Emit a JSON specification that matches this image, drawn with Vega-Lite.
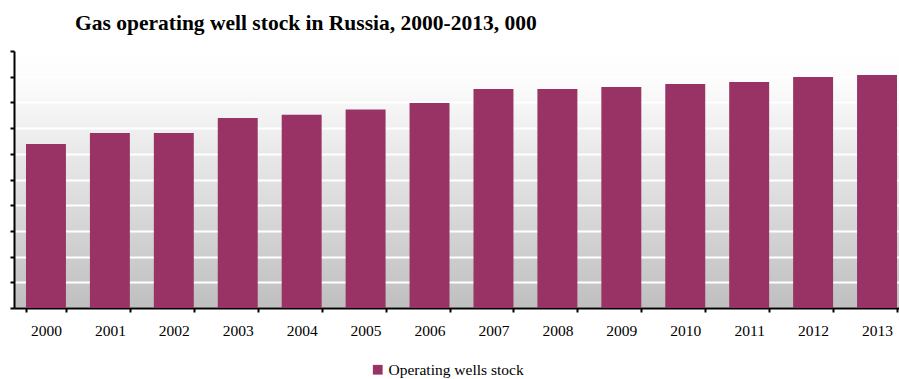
{
  "$schema": "https://vega.github.io/schema/vega-lite/v6.json",
  "width": 885,
  "height": 257,
  "autosize": {"type": "none"},
  "padding": {"left": 14, "top": 51, "right": 0, "bottom": 71},
  "background": "white",
  "title": {
    "text": "Gas operating well stock in Russia, 2000-2013, 000",
    "anchor": "start",
    "frame": "group",
    "dx": 61,
    "dy": 21,
    "baseline": "alphabetic",
    "offset": 20,
    "font": "Liberation Serif",
    "fontSize": 21.5,
    "fontWeight": "bold",
    "color": "black"
  },
  "config": {
    "view": {
      "stroke": null,
      "fill": {
        "gradient": "linear",
        "x1": 0, "y1": 0, "x2": 0, "y2": 1,
        "stops": [
          {"offset": 0, "color": "#ffffff"},
          {"offset": 0.12, "color": "#fcfcfc"},
          {"offset": 1, "color": "#bfbfbf"}
        ]
      }
    }
  },
  "data": {
    "values": [
      {"year": "2000", "stock": 6.38, "series": "Operating wells stock"},
      {"year": "2001", "stock": 6.81, "series": "Operating wells stock"},
      {"year": "2002", "stock": 6.81, "series": "Operating wells stock"},
      {"year": "2003", "stock": 7.39, "series": "Operating wells stock"},
      {"year": "2004", "stock": 7.52, "series": "Operating wells stock"},
      {"year": "2005", "stock": 7.72, "series": "Operating wells stock"},
      {"year": "2006", "stock": 7.98, "series": "Operating wells stock"},
      {"year": "2007", "stock": 8.52, "series": "Operating wells stock"},
      {"year": "2008", "stock": 8.52, "series": "Operating wells stock"},
      {"year": "2009", "stock": 8.60, "series": "Operating wells stock"},
      {"year": "2010", "stock": 8.72, "series": "Operating wells stock"},
      {"year": "2011", "stock": 8.79, "series": "Operating wells stock"},
      {"year": "2012", "stock": 8.99, "series": "Operating wells stock"},
      {"year": "2013", "stock": 9.07, "series": "Operating wells stock"}
    ]
  },
  "mark": {"type": "bar"},
  "encoding": {
    "x": {
      "field": "year",
      "type": "ordinal",
      "scale": {"range": [0, 895], "paddingInner": 0.375, "paddingOuter": 0.1875},
      "axis": {
        "title": null,
        "labelAngle": 0,
        "labelFont": "Liberation Serif",
        "labelFontSize": 15.5,
        "labelColor": "black",
        "labelPadding": 11,
        "domainColor": "black",
        "domainWidth": 2,
        "tickColor": "black",
        "tickWidth": 2,
        "tickSize": 4,
        "tickBand": "extent",
        "grid": false
      }
    },
    "y": {
      "field": "stock",
      "type": "quantitative",
      "scale": {"domain": [0, 10]},
      "axis": {
        "title": null,
        "labels": false,
        "values": [0, 1, 2, 3, 4, 5, 6, 7, 8, 9, 10],
        "domainColor": "black",
        "domainWidth": 2,
        "tickColor": "black",
        "tickWidth": 2,
        "tickSize": 4,
        "grid": true,
        "gridColor": "white",
        "gridWidth": 2,
        "gridOpacity": 1
      }
    },
    "color": {
      "field": "series",
      "type": "nominal",
      "scale": {"range": ["#993366"]},
      "legend": {
        "title": null,
        "orient": "none",
        "legendX": 356,
        "legendY": 311,
        "symbolType": "square",
        "symbolSize": 95,
        "symbolStrokeWidth": 0,
        "labelFont": "Liberation Serif",
        "labelFontSize": 15.5,
        "labelColor": "black",
        "labelOffset": 3
      }
    }
  }
}
